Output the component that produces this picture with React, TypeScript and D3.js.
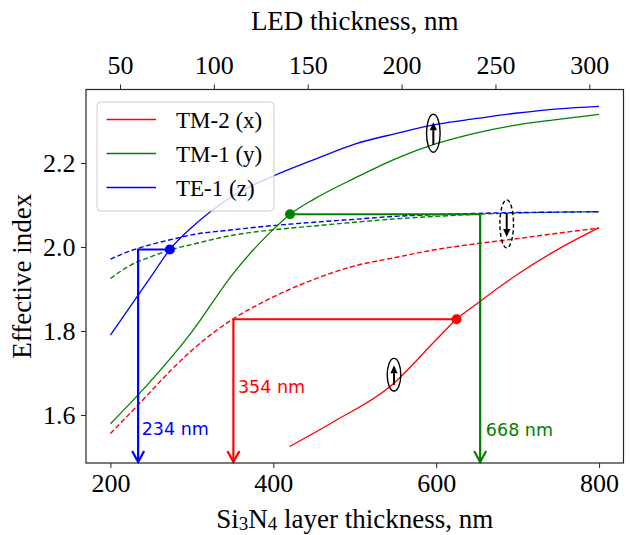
import React, { useEffect, useRef } from "react";
import * as d3 from "d3";

const width = 631;
const height = 535;
const plot = { left: 86, right: 623.5, top: 89.5, bottom: 463 };
const serif = "'Liberation Serif', 'Times New Roman', serif";
const sans = "'DejaVu Sans', sans-serif";

// tick labels
const xTicks = [200, 400, 600, 800];
const ledTicks = [50, 100, 150, 200, 250, 300];
const yTicks = [1.6, 1.8, 2.0, 2.2];

// Si3N4 thickness (nm) -> effective index
const teX = [200, 250, 273, 300, 350, 400, 450, 500, 550, 600, 650, 700, 750, 800];
const teSolid = [1.79, 1.93, 1.994, 2.047, 2.121, 2.169, 2.208, 2.245, 2.27, 2.292, 2.306, 2.319, 2.329, 2.335];

const tm1X = [200, 245, 300, 350, 400, 420, 450, 500, 550, 600, 650, 700, 750, 800];
const tm1Solid = [1.579, 1.671, 1.798, 1.935, 2.042, 2.077, 2.114, 2.164, 2.21, 2.246, 2.272, 2.291, 2.304, 2.316];

const tm2X = [420, 474, 543, 600, 625, 650, 700, 750, 800];
const tm2Solid = [1.525, 1.584, 1.667, 1.779, 1.828, 1.865, 1.935, 1.995, 2.046];

// dashed curves share one x grid
const dashX = [200, 225, 250, 275, 300, 350, 400, 450, 500, 550, 600, 650, 700, 750, 800];
const tm2Dash = [1.556, 1.606, 1.657, 1.708, 1.754, 1.828, 1.881, 1.923, 1.955, 1.975, 1.994, 2.008, 2.02, 2.033, 2.045];
const tm1Dash = [1.925, 1.957, 1.977, 1.994, 2.006, 2.028, 2.041, 2.05, 2.059, 2.067, 2.073, 2.078, 2.081, 2.083, 2.084];
const teDash = [1.971, 1.991, 2.006, 2.018, 2.029, 2.041, 2.051, 2.059, 2.066, 2.073, 2.077, 2.08, 2.082, 2.083, 2.084];

const legendLabels = ["TM-2 (x)", "TM-1 (y)", "TE-1 (z)"];
const colors = ["#ff0000", "#008000", "#0000ff"];

// crossing markers (blue, green, red) and where they drop to the thickness axis
const dotColors = ["#0000ff", "#008000", "#ff0000"];
const dotX = [273, 420.5, 625];
const dotY = [1.994, 2.078, 1.828];
const dropX = [234, 654, 351];
const dropLabels = ["234 nm", "668 nm", "354 nm"];
const dropLabelX = [238.4, 661, 356.6];
const dropLabelY = [1.552, 1.55, 1.653];

// ellipse marks with arrows
const ellX = [596.5, 686.6, 548.2];
const ellY = [2.271, 2.055, 1.696];
const ellUp = [true, false, true];
const ellDashed = [false, true, false];

const x = d3.scaleLinear().domain([170, 830]).range([plot.left, plot.right]);
const xLed = d3.scaleLinear().domain([31.9, 318.2]).range([plot.left, plot.right]);
const y = d3.scaleLinear().domain([1.4857, 2.375]).range([plot.bottom, plot.top]);

const line = (xs: number[], ys: number[]) =>
  d3
    .line<number>()
    .x((d, i) => x(xs[i]))
    .y(d => y(d))
    .curve(d3.curveMonotoneX)(ys) || "";

const EllipseMark = ({ i }: { i: number }) => {
  const cx = x(ellX[i]);
  const cy = y(ellY[i]);
  const ry = [19, 24, 16.3][i];
  const up = ellUp[i];
  const tail = up ? cy + ry * 0.62 : cy - ry * 0.45;
  const tip = up ? cy - ry * 0.58 : cy + ry * 0.55;
  const head = up ? tip + 8 : tip - 8;
  return (
    <g>
      <ellipse
        cx={cx}
        cy={cy}
        rx={6.8}
        ry={ry}
        fill="none"
        stroke="#000"
        strokeWidth={1.4}
        strokeDasharray={ellDashed[i] ? "4,2.5" : undefined}
      />
      <line x1={cx} x2={cx} y1={tail} y2={head} stroke="#000" strokeWidth={2} />
      <path d={`M${cx - 3.6},${head} L${cx},${tip} L${cx + 3.6},${head} Z`} fill="#000" />
    </g>
  );
};

export default function App() {
  const xAxisRef = useRef<SVGGElement>(null);
  const topAxisRef = useRef<SVGGElement>(null);
  const yAxisRef = useRef<SVGGElement>(null);

  useEffect(() => {
    const style = (g: any) => {
      g.select(".domain").remove();
      g.attr("font-size", 26).attr("font-family", serif);
      g.selectAll("text").attr("fill", "#000");
      g.selectAll("line").attr("stroke", "#262626").attr("stroke-width", 1);
    };
    d3.select(xAxisRef.current!)
      .call(d3.axisBottom(x).tickValues(xTicks).tickSize(5).tickPadding(6) as any)
      .call(style);
    d3.select(topAxisRef.current!)
      .call(d3.axisTop(xLed).tickValues(ledTicks).tickSize(5).tickPadding(11) as any)
      .call(style);
    d3.select(yAxisRef.current!)
      .call(
        d3.axisLeft(y).tickValues(yTicks).tickSize(5).tickPadding(5.5).tickFormat(d3.format(".1f")) as any
      )
      .call(style);
  }, []);

  const dashed = [tm2Dash, tm1Dash, teDash];
  const solid = [
    line(tm2X, tm2Solid),
    line(tm1X, tm1Solid),
    line(teX, teSolid)
  ];

  return (
    <svg
      width={width}
      height={height}
      style={{ position: "absolute", left: 0, top: 0, background: "#fff" }}
    >
      <rect width={width} height={height} fill="#fff" />

      {/* dashed curves */}
      {dashed.map((d, i) => (
        <path
          key={"d" + i}
          d={line(dashX, d)}
          fill="none"
          stroke={colors[i]}
          strokeWidth={1.4}
          strokeDasharray="5,2.6"
        />
      ))}
      {solid.map((d, i) => (
        <path key={"s" + i} d={d} fill="none" stroke={colors[i]} strokeWidth={1.3} />
      ))}

      {/* drop lines to the thickness axis */}
      {dotX.map((dx, i) => {
        const px = x(dropX[i]);
        const py = y(dotY[i]);
        const tip = plot.bottom - 1;
        return (
          <g key={"a" + i} stroke={dotColors[i]} fill="none" strokeWidth={2.2}>
            <path d={`M${x(dx)},${py} H${px} V${tip}`} />
            <path d={`M${px - 6},${tip - 11} L${px},${tip} L${px + 6},${tip - 11}`} />
            <circle cx={x(dx)} cy={py} r={5} fill={dotColors[i]} stroke="none" />
            <text
              x={x(dropLabelX[i])}
              y={y(dropLabelY[i])}
              fill={dotColors[i]}
              stroke="none"
              fontFamily={sans}
              fontSize={17.5}
            >
              {dropLabels[i]}
            </text>
          </g>
        );
      })}

      {ellX.map((_, i) => (
        <EllipseMark key={"e" + i} i={i} />
      ))}

      {/* legend */}
      <g>
        <rect
          x={97}
          y={102}
          width={177}
          height={109}
          rx={4}
          fill="#fff"
          fillOpacity={0.8}
          stroke="#cccccc"
          strokeWidth={1}
        />
        {legendLabels.map((lab, i) => (
          <g key={lab} transform={`translate(0, ${119.5 + i * 34})`}>
            <line x1={106.5} x2={156} stroke={colors[i]} strokeWidth={1.4} />
            <text x={176} y={8} fontFamily={serif} fontSize={23} fill="#000">
              {lab}
            </text>
          </g>
        ))}
      </g>

      <rect
        x={plot.left}
        y={plot.top}
        width={plot.right - plot.left}
        height={plot.bottom - plot.top}
        fill="none"
        stroke="#262626"
        strokeWidth={1.2}
      />
      <g ref={xAxisRef} transform={`translate(0, ${plot.bottom})`} />
      <g ref={topAxisRef} transform={`translate(0, ${plot.top})`} />
      <g ref={yAxisRef} transform={`translate(${plot.left}, 0)`} />

      <text
        x={(plot.left + plot.right) / 2}
        y={30}
        textAnchor="middle"
        fontFamily={serif}
        fontSize={27}
      >
        LED thickness, nm
      </text>
      <text
        x={(plot.left + plot.right) / 2}
        y={528}
        textAnchor="middle"
        fontFamily={serif}
        fontSize={27}
      >
        Si<tspan fontSize={19} dy={2}>3</tspan>
        <tspan dy={-2}>N</tspan>
        <tspan fontSize={19} dy={2}>4</tspan>
        <tspan dy={-2}> layer thickness, nm</tspan>
      </text>
      <text
        transform={`translate(31, ${(plot.top + plot.bottom) / 2}) rotate(-90)`}
        textAnchor="middle"
        fontFamily={serif}
        fontSize={27}
      >
        Effective index
      </text>
    </svg>
  );
}
